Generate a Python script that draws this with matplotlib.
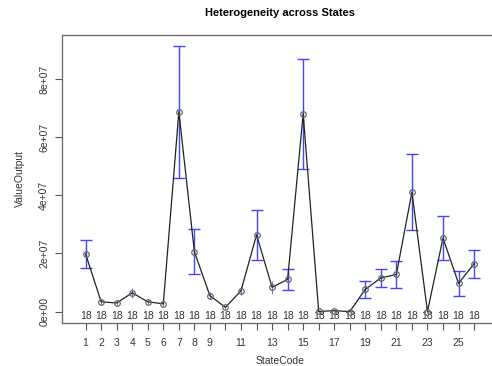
import matplotlib
matplotlib.use("Agg")
import matplotlib.pyplot as plt
import matplotlib.transforms as mtransforms

plt.rcParams['font.family'] = ['Liberation Sans', 'DejaVu Sans']

# state codes 1..26, group means and CI half-widths
states = list(range(1, 27))
means = [19.8e6, 3.4e6, 3.0e6, 6.5e6, 3.4e6, 2.7e6, 68.7e6, 20.6e6, 5.5e6, 1.5e6,
         7.2e6, 26.4e6, 8.4e6, 11.1e6, 68.0e6, 0.1e6, 0.35e6, 0.05e6, 7.7e6, 11.6e6,
         12.8e6, 41.1e6, 0.05e6, 25.3e6, 9.7e6, 16.5e6]
ci = [4.9e6, 0.8e6, 0.6e6, 1.8e6, 0.9e6, 0.6e6, 22.6e6, 7.7e6, 1.2e6, 0.4e6,
      1.5e6, 8.6e6, 2.3e6, 3.5e6, 18.8e6, 0.05e6, 0.1e6, 0.05e6, 2.9e6, 3.0e6,
      4.6e6, 13.1e6, 0.05e6, 7.6e6, 4.4e6, 4.8e6]
counts = [18] * 26
tick_labels = ['1', '2', '3', '4', '5', '6', '7', '8', '9', '', '11', '', '13', '',
               '15', '', '17', '', '19', '', '21', '', '23', '', '25', '']
yticks = [0, 2e7, 4e7, 6e7, 8e7]
ytick_labels = ['0e+00', '2e+07', '4e+07', '6e+07', '8e+07']

fig = plt.figure(figsize=(4.92, 3.66), dpi=100)
ax = fig.add_axes([61.7 / 492, 1 - 322.5 / 366, (498 - 61.7) / 492, (322.5 - 35) / 366])

# wide intervals get caps, tiny ones are just a short stroke (like R's arrows())
big = [i for i in range(len(states)) if ci[i] > 2.5e6]
small = [i for i in range(len(states)) if ci[i] <= 2.5e6]
ax.errorbar([states[i] for i in big], [means[i] for i in big], yerr=[ci[i] for i in big],
            fmt='none', ecolor='#4545ff', elinewidth=1, capsize=4.3, capthick=1, zorder=2)
ax.errorbar([states[i] for i in small], [means[i] for i in small], yerr=[ci[i] for i in small],
            fmt='none', ecolor='#7070ff', elinewidth=0.8, capsize=0, zorder=2)
ax.plot(states, means, color='#222222', lw=0.9, zorder=3)
ax.plot(states, means, 'o', ms=4, mfc='none', mec='#666666', mew=0.9, zorder=4)

trans = mtransforms.blended_transform_factory(ax.transData, ax.transAxes)
for s, n in zip(states, counts):
    ax.text(s, 0.006, str(n), transform=trans, ha='center', va='bottom',
            fontsize=7.5, color='#333333')

ax.set_xlim(-0.54, 27.54)
ax.set_ylim(-3.71e6, 9.508e7)
ax.set_xticks(states)
ax.set_xticklabels(tick_labels)
ax.set_yticks(yticks)
ax.set_yticklabels(ytick_labels, rotation=90, va='center')
ax.tick_params(axis='both', direction='out', length=5, width=0.8, color='#555555',
               labelsize=7.5, labelcolor='#333333')
ax.tick_params(axis='x', pad=6)
ax.tick_params(axis='y', pad=4)

for side in ['left', 'top', 'bottom']:
    ax.spines[side].set_color('#666666')
    ax.spines[side].set_linewidth(0.9)
ax.spines['right'].set_visible(False)

ax.set_xlabel('StateCode', fontsize=7.5, color='#333333', labelpad=6)
ax.set_ylabel('ValueOutput', fontsize=7.5, color='#333333', labelpad=10)
ax.set_title('Heterogeneity across States', fontsize=8, fontweight='bold', pad=14)

fig.savefig('out.png', dpi=100)
